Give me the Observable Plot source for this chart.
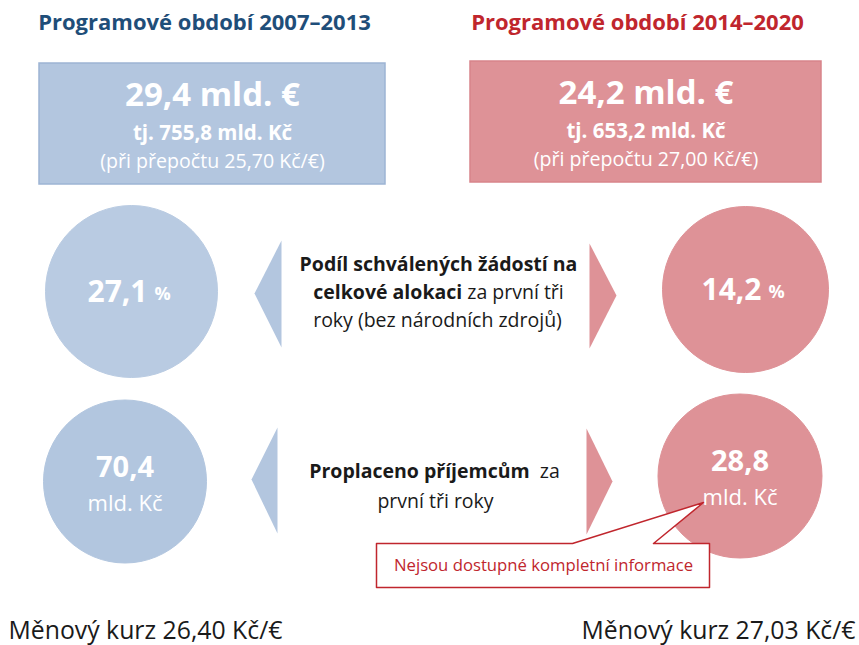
<!DOCTYPE html>
<html><head><meta charset="utf-8">
<script src="https://cdn.jsdelivr.net/npm/d3@7"></script>
<script src="https://cdn.jsdelivr.net/npm/@observablehq/plot@0.6"></script>
<style>
html,body{margin:0;padding:0;background:#fff;}
svg text{white-space:pre;}
</style>
</head><body>
<div id="chart"></div>
<script>
// ---- DATA ----
const periods = ["2007–2013", "2014–2020"];
const allocationEUR = [29.4, 24.2];        // mld. €
const allocationCZK = [755.8, 653.2];      // mld. Kč
const conversionRate = [25.70, 27.00];     // Kč/€
const approvedShare = [27.1, 14.2];        // %
const paidCZK = [70.4, 28.8];              // mld. Kč
const exchangeRate = [26.40, 27.03];       // Kč/€
const shareLabel = [["Podíl schválených žádostí na", true], ["celkové alokaci", true], [" za první tři", false], ["roky (bez národních zdrojů)", false]];
const paidLabel = [["Proplaceno příjemcům", true], ["  za", false], ["první tři roky", false]];
const calloutText = "Nejsou dostupné kompletní informace";

// ---- STYLE / LAYOUT ----
const W = 859, H = 645;
const font = "'Open Sans', Lato, sans-serif";
const titleColor = ["#1f4e79", "#c0262d"];
const boxFill = ["#b3c6df", "#de9297"];
const boxStroke = ["#9db4d4", "#d8848a"];
const circleFill = [["#b9cbe2", "#de9297"], ["#b2c6df", "#de9297"]];
const cz = (v, d) => v.toFixed(d).replace(".", ",");

const titleX = [204, 637];
const boxes = [
  {x1: 39, x2: 385, y1: 63, y2: 184},
  {x1: 470, x2: 821, y1: 61, y2: 182}
];
const circ = [
  [{cx: 131, cy: 291, r: 86}, {cx: 745, cy: 289, r: 83}],
  [{cx: 124.5, cy: 481, r: 81.5}, {cx: 739.5, cy: 475.5, r: 82}]
];

const titleData = periods.map((p, i) => ({x: titleX[i], y: 22, text: "Programové období " + p, fill: titleColor[i]}));
const boxData = boxes.map((b, i) => ({...b, fill: boxFill[i], stroke: boxStroke[i]}));
const boxBig = periods.map((p, i) => ({x: (boxes[i].x1 + boxes[i].x2) / 2, y: boxes[i].y1 + 32, text: cz(allocationEUR[i], 1) + " mld. €"}));
const boxMid = periods.map((p, i) => ({x: (boxes[i].x1 + boxes[i].x2) / 2, y: boxes[i].y1 + 70, text: "tj. " + cz(allocationCZK[i], 1) + " mld. Kč"}));
const boxSmall = periods.map((p, i) => ({x: (boxes[i].x1 + boxes[i].x2) / 2, y: boxes[i].y1 + 98, text: "(při přepočtu " + cz(conversionRate[i], 2) + " Kč/€)"}));

const circleData = [];
circ.forEach((row, r) => row.forEach((c, i) => circleData.push({...c, fill: circleFill[r][i]})));

const shareNum = periods.map((p, i) => ({x: circ[0][i].cx + 16, y: circ[0][i].cy + 1, text: cz(approvedShare[i], 1)}));
const sharePct = periods.map((p, i) => ({x: circ[0][i].cx + 23, y: circ[0][i].cy + 3, text: "%"}));
const paidNum = periods.map((p, i) => ({x: circ[1][i].cx, y: circ[1][i].cy - 14, text: cz(paidCZK[i], 1)}));
const paidUnit = periods.map((p, i) => ({x: circ[1][i].cx, y: circ[1][i].cy + 22, text: "mld. Kč"}));

// triangles pointing outward
const tri = [
  {id: "a", side: 0, pts: [[281, 240], [254, 293], [281, 347]]},
  {id: "b", side: 1, pts: [[589, 243], [616, 295], [589, 348]]},
  {id: "c", side: 0, pts: [[277, 427], [251, 479], [277, 533]]},
  {id: "d", side: 1, pts: [[586, 428], [612, 481], [586, 534]]}
];
const triPts = side => tri.filter(t => t.side === side).flatMap(t => t.pts.map(([x, y]) => ({id: t.id, x, y})));

// middle text lines (runs: [text, bold])
const midLines = [
  {x: 438, y: 264, runs: [shareLabel[0]]},
  {x: 438, y: 292, runs: [shareLabel[1], shareLabel[2]]},
  {x: 437, y: 320, runs: [shareLabel[3]]},
  {x: 434, y: 471, runs: [paidLabel[0], paidLabel[1]]},
  {x: 435, y: 501, runs: [paidLabel[2]]}
];
const joined = d => d.runs.map(r => r[0]).join("");

// callout
const callout = [[376, 543], [572, 543], [703, 502], [653, 543], [709, 543], [709, 587], [376, 587], [376, 543]].map(([x, y]) => ({x, y}));

const bottomL = [{x: 8, y: 631, text: "Měnový kurz " + cz(exchangeRate[0], 2) + " Kč/€"}];
const bottomR = [{x: 855, y: 631, text: "Měnový kurz " + cz(exchangeRate[1], 2) + " Kč/€"}];

const chart = Plot.plot({
  width: W, height: H, margin: 0,
  x: {domain: [0, W], range: [0, W], axis: null},
  y: {domain: [0, H], range: [0, H], axis: null},
  r: {type: "identity"},
  style: {fontFamily: font, background: "#fff"},
  marks: [
    Plot.text(titleData, {x: "x", y: "y", text: "text", fill: "fill", fontSize: 22, fontWeight: "bold"}),
    Plot.rect(boxData, {x1: "x1", x2: "x2", y1: "y1", y2: "y2", fill: "fill", stroke: "stroke", strokeWidth: 1.5}),
    Plot.text(boxBig, {x: "x", y: "y", text: "text", fill: "white", fontSize: 33, fontWeight: "bold"}),
    Plot.text(boxMid, {x: "x", y: "y", text: "text", fill: "white", fontSize: 20.5, fontWeight: "bold"}),
    Plot.text(boxSmall, {x: "x", y: "y", text: "text", fill: "white", fontSize: 19.6}),
    Plot.dot(circleData, {x: "cx", y: "cy", r: "r", fill: "fill", stroke: "fill", strokeWidth: 1}),
    Plot.line(triPts(0), {x: "x", y: "y", z: "id", fill: "#b3c6df", stroke: "none"}),
    Plot.line(triPts(1), {x: "x", y: "y", z: "id", fill: "#de9297", stroke: "none"}),
    Plot.text(shareNum, {x: "x", y: "y", text: "text", fill: "white", fontSize: 30, fontWeight: "bold", textAnchor: "end"}),
    Plot.text(sharePct, {x: "x", y: "y", text: "text", fill: "white", fontSize: 18, fontWeight: "bold", textAnchor: "start"}),
    Plot.text(paidNum, {x: "x", y: "y", text: "text", fill: "white", fontSize: 29, fontWeight: "bold"}),
    Plot.text(paidUnit, {x: "x", y: "y", text: "text", fill: "white", fontSize: 22}),
    Plot.text(midLines, {x: "x", y: "y", text: joined, fill: "#1a1a1a", fontSize: 19.5}),
    Plot.line(callout, {x: "x", y: "y", fill: "white", stroke: "#c0262d", strokeWidth: 1.5}),
    Plot.text([{x: 543, y: 565, text: calloutText}], {x: "x", y: "y", text: "text", fill: "#c0262d", fontSize: 16.7}),
    Plot.text(bottomL, {x: "x", y: "y", text: "text", textAnchor: "start", fill: "#1a1a1a", fontSize: 24.8}),
    Plot.text(bottomR, {x: "x", y: "y", text: "text", textAnchor: "end", fill: "#1a1a1a", fontSize: 24.8})
  ]
});

// split mixed-weight lines into bold / regular runs
const byText = new Map(midLines.map(d => [joined(d), d]));
chart.querySelectorAll("text").forEach(t => {
  const d = byText.get(t.textContent);
  if (!d) return;
  t.textContent = "";
  d.runs.forEach(([s, b]) => {
    const ts = document.createElementNS("http://www.w3.org/2000/svg", "tspan");
    ts.textContent = s;
    if (b) ts.setAttribute("font-weight", "bold");
    t.appendChild(ts);
  });
});

document.getElementById("chart").appendChild(chart);
</script>
</body></html>
